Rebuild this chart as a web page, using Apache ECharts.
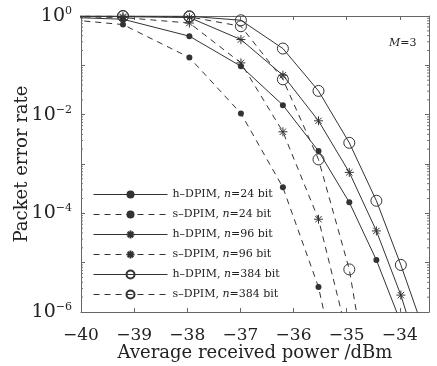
<!DOCTYPE html>
<html>
<head>
<meta charset="utf-8">
<script src="https://cdn.jsdelivr.net/npm/echarts@6/dist/echarts.min.js"></script>
<style>
  html, body { margin: 0; padding: 0; background: #fff; }
  #chart { width: 437px; height: 366px; }
</style>
</head>
<body>
<div id="chart"></div>
<script>
// received power (dBm) where the curves were sampled
var powerDbm = [-40.97, -39.21, -37.96, -36.99, -36.20, -35.53, -34.95, -34.44, -33.98, -33.57];

// packet error rate (null = not drawn)
var hDpim24  = [1.0, 0.86, 0.39, 0.096, 0.0156, 1.83e-3, 1.67e-4, 1.13e-5, 6.1e-7, null];
var sDpim24  = [1.0, 0.67, 0.144, 0.0106, 3.36e-4, 3.2e-6, 4.8e-9, null, null, null];
var hDpim96  = [1.0, 0.97, 0.93, 0.333, 0.063, 7.5e-3, 6.76e-4, 4.4e-5, 2.2e-6, 8.5e-8];
var sDpim96  = [1.0, 0.93, 0.72, 0.112, 4.5e-3, 7.6e-5, 2.3e-7, null, null, null];
var hDpim384 = [1.0, 1.0, 0.99, 0.82, 0.219, 0.0303, 2.69e-3, 1.8e-4, 9e-6, 4.9e-7];
var sDpim384 = [1.0, 0.99, 0.96, 0.62, 0.052, 1.24e-3, 7.3e-6, 3.8e-9, null, null];

var xTicks = [-40, -39, -38, -37, -36, -35, -34];
var X_MIN = -40, X_MAX = -33.45;

var FONT = 'DejaVu Serif';
var INK = '#333';
var STAR = 'path://M0,-10L0,10M-10,0L10,0M-7,-7L7,7M-7,7L7,-7';

// minor ticks of the log axis: 2..9 x 10^k
var minorTicks = [];
for (var k = -6; k < 0; k++) {
    for (var m = 2; m <= 9; m++) minorTicks.push([X_MIN, m * Math.pow(10, k)]);
}

function pairs(ys) {
    var out = [];
    for (var i = 0; i < ys.length; i++) {
        if (ys[i] !== null) out.push([powerDbm[i], ys[i]]);
    }
    return out;
}

function makeSeries(name, ys, dashed, marker) {
    var s = {
        name: name,
        type: 'line',
        data: pairs(ys),
        clip: true,
        lineStyle: { color: INK, width: 1, type: dashed ? [6, 5] : 'solid' },
        itemStyle: { color: INK, borderColor: INK, borderWidth: 0 },
        symbol: 'circle',
        symbolSize: 6,
        animation: false
    };
    if (marker === 'star') {
        s.symbol = STAR;
        s.symbolSize = 9;
        s.itemStyle = { color: INK, borderColor: INK, borderWidth: 1 };
    } else if (marker === 'ring') {
        s.symbolSize = 11;
        s.itemStyle = { color: 'rgba(255,255,255,0)', borderColor: INK, borderWidth: 1 };
    }
    return s;
}

function expLabel(v) {
    var e = Math.round(Math.log10(v));
    if (e % 2 !== 0) return '';
    return '{b|10}{s|' + (e === 0 ? '0' : '\u2212' + (-e)) + '}';
}

var chart = echarts.init(document.getElementById('chart'));

var logAxis = {
    type: 'log',
    logBase: 10,
    min: 1e-6,
    max: 1,
    axisLine: { show: true, lineStyle: { color: '#666', width: 1 } },
    axisTick: { inside: true, length: 4, lineStyle: { color: '#666' } },
    splitLine: { show: false }
};

var valAxis = {
    type: 'value',
    min: X_MIN,
    max: X_MAX,
    interval: 1,
    axisLine: { show: true, onZero: false, lineStyle: { color: '#666', width: 1 } },
    axisTick: { inside: true, length: 4, lineStyle: { color: '#666' } },
    splitLine: { show: false }
};

var names = [
    'h\u2013DPIM, n=24 bit', 's\u2013DPIM, n=24 bit',
    'h\u2013DPIM, n=96 bit', 's\u2013DPIM, n=96 bit',
    'h\u2013DPIM, n=384 bit', 's\u2013DPIM, n=384 bit'
];

var option = {
    backgroundColor: '#fff',
    animation: false,
    grid: { left: 81, right: 8, top: 16, bottom: 54, outerBoundsMode: 'none', containLabel: false },
    title: {
        text: '{i|M}=3',
        left: 384,
        top: 33,
        textStyle: {
            rich: {
                i: { fontFamily: FONT, fontSize: 11, fontStyle: 'italic', color: '#222' }
            },
            fontFamily: FONT, fontSize: 11, fontWeight: 'normal', color: '#222'
        }
    },
    legend: {
        data: names,
        orient: 'vertical',
        left: 88,
        top: 183,
        itemWidth: 74,
        itemHeight: 10,
        itemGap: 7,
        lineStyle: { width: 1 },
        formatter: function (name) { return name.replace('n=', '{i|n}='); },
        textStyle: {
            fontFamily: FONT,
            fontSize: 11,
            lineHeight: 13,
            color: '#222',
            rich: {
                i: { fontFamily: FONT, fontSize: 11, fontStyle: 'italic', color: '#222' }
            }
        }
    },
    xAxis: [
        Object.assign({}, valAxis, {
            position: 'bottom',
            name: 'Average received power /dBm',
            nameLocation: 'middle',
            nameGap: 32,
            nameMoveOverlap: false,
            nameTextStyle: { fontFamily: FONT, fontSize: 18, color: '#222' },
            axisLabel: {
                margin: 15,
                fontFamily: FONT,
                fontSize: 17,
                color: '#222',
                showMaxLabel: false,
                formatter: function (v) {
                    return xTicks.indexOf(v) >= 0 ? '\u2212' + Math.abs(v) : '';
                }
            }
        }),
        Object.assign({}, valAxis, {
            position: 'top',
            axisLabel: { show: false }
        })
    ],
    yAxis: [
        Object.assign({}, logAxis, {
            position: 'left',
            name: 'Packet error rate',
            nameLocation: 'middle',
            nameGap: 50,
            nameMoveOverlap: false,
            nameTextStyle: { fontFamily: FONT, fontSize: 18, color: '#222' },
            axisLabel: {
                margin: 9,
                formatter: expLabel,
                rich: {
                    b: { fontFamily: FONT, fontSize: 19, color: '#222' },
                    s: { fontFamily: FONT, fontSize: 11, color: '#222', padding: [0, 0, 10, 0] }
                }
            }
        }),
        Object.assign({}, logAxis, {
            position: 'right',
            axisLabel: { show: false }
        })
    ],
    series: [
        makeSeries(names[0], hDpim24, false, 'dot'),
        makeSeries(names[1], sDpim24, true, 'dot'),
        makeSeries(names[2], hDpim96, false, 'star'),
        makeSeries(names[3], sDpim96, true, 'star'),
        makeSeries(names[4], hDpim384, false, 'ring'),
        makeSeries(names[5], sDpim384, true, 'ring'),
        {
            type: 'custom',
            silent: true,
            clip: false,
            data: minorTicks,
            renderItem: function (params, api) {
                var l = api.coord([X_MIN, api.value(1)]);
                var r = api.coord([X_MAX, api.value(1)]);
                var st = { stroke: '#777', lineWidth: 1 };
                return {
                    type: 'group',
                    children: [
                        { type: 'line', shape: { x1: l[0], y1: l[1], x2: l[0] + 2, y2: l[1] }, style: st },
                        { type: 'line', shape: { x1: r[0] - 2, y1: r[1], x2: r[0], y2: r[1] }, style: st }
                    ]
                };
            }
        }
    ]
};

chart.setOption(option);
</script>
</body>
</html>
